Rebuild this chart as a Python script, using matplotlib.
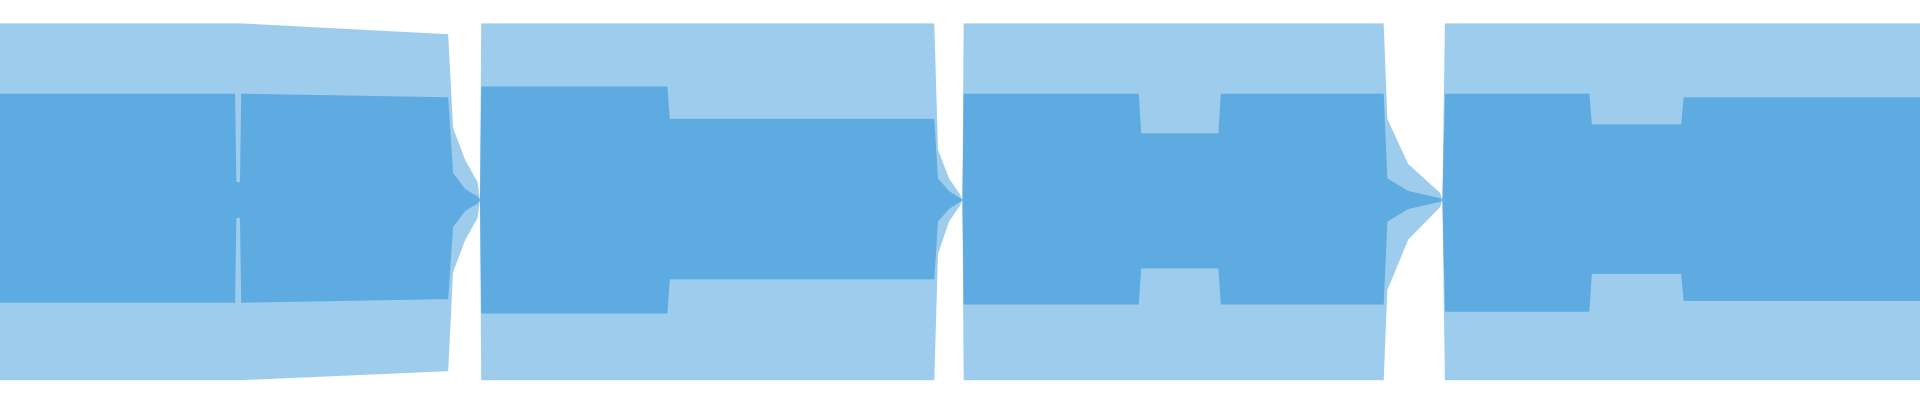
import matplotlib
matplotlib.use("Agg")
import matplotlib.pyplot as plt

# envelope breakpoints (time in seconds), amplitudes normalised to +/-1
t = [0.0, 1.92, 1.93, 1.96, 1.97, 3.66, 3.70, 3.80, 3.90, 3.92,
     3.93, 5.45, 5.47, 7.63, 7.66, 7.75, 7.84, 7.86,
     7.87, 9.30, 9.32, 9.95, 9.97, 11.30, 11.33, 11.50, 11.76, 11.78,
     11.80, 12.98, 13.00, 13.73, 13.75, 15.68]
core_top = [0.59, 0.59, 0.10, 0.10, 0.59, 0.57, 0.15, 0.06, 0.02, 0.0,
            0.63, 0.63, 0.45, 0.45, 0.12, 0.05, 0.01, 0.0,
            0.59, 0.59, 0.37, 0.37, 0.59, 0.59, 0.12, 0.05, 0.01, 0.0,
            0.59, 0.59, 0.42, 0.42, 0.57, 0.57]
core_bot = [-0.57, -0.57, -0.10, -0.10, -0.57, -0.55, -0.15, -0.06, -0.02, 0.0,
            -0.63, -0.63, -0.44, -0.44, -0.12, -0.05, -0.01, 0.0,
            -0.58, -0.58, -0.38, -0.38, -0.58, -0.58, -0.12, -0.05, -0.01, 0.0,
            -0.62, -0.62, -0.41, -0.41, -0.56, -0.56]
peak_top = [0.98, 0.98, 0.98, 0.98, 0.98, 0.92, 0.40, 0.22, 0.10, 0.0,
            0.98, 0.98, 0.98, 0.98, 0.28, 0.12, 0.03, 0.0,
            0.98, 0.98, 0.98, 0.98, 0.98, 0.98, 0.45, 0.20, 0.04, 0.0,
            0.98, 0.98, 0.98, 0.98, 0.98, 0.98]
peak_bot = [-1.0, -1.0, -1.0, -1.0, -1.0, -0.95, -0.40, -0.22, -0.10, 0.0,
            -1.0, -1.0, -1.0, -1.0, -0.30, -0.12, -0.03, 0.0,
            -1.0, -1.0, -1.0, -1.0, -1.0, -1.0, -0.50, -0.22, -0.04, 0.0,
            -1.0, -1.0, -1.0, -1.0, -1.0, -1.0]

BLUE = "#5DABE0"

fig = plt.figure(figsize=(19.2, 4.0), dpi=100)
ax = fig.add_axes([0, 0, 1, 1])
ax.fill_between(t, peak_bot, peak_top, color=BLUE, alpha=0.6, linewidth=0)
ax.fill_between(t, core_bot, core_top, color=BLUE, linewidth=0)
ax.set_xlim(t[0], t[-1])
ax.set_ylim(-1.11, 1.11)
ax.axis("off")
fig.savefig("out.png")
